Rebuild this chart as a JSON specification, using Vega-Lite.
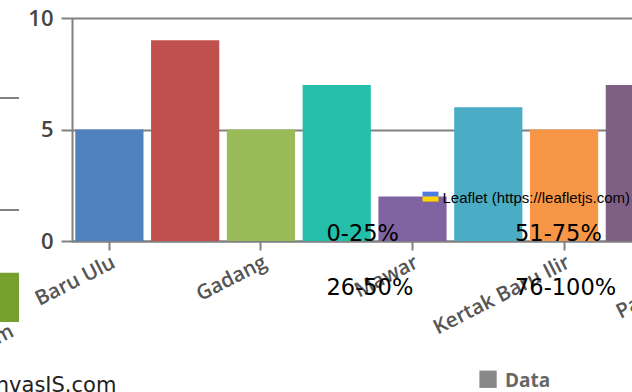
{"$schema":"https://vega.github.io/schema/vega-lite/v6.json","width":560,"height":223,"autosize":{"type":"none"},"padding":{"left":72,"top":18,"right":0,"bottom":151},"background":"#ffffff","config":{"view":{"stroke":null}},"layer":[{"data":{"values":[{"region":"Teluk Dalam","value":2.2}]},"layer":[{"mark":{"type":"tick","orient":"horizontal","size":68,"thickness":2,"color":"#808080","opacity":1},"data":{"values":[{"region":"Teluk Dalam","value":5},{"region":"Teluk Dalam","value":10}]},"encoding":{"x":{"field":"region","type":"nominal","axis":null,"scale":{"domain":["Teluk Dalam"],"range":[-121,-53],"paddingInner":0,"paddingOuter":0}},"y":{"field":"value","type":"quantitative","axis":null,"scale":{"domain":[0,10],"range":[304,80],"nice":false}}}},{"mark":{"type":"bar","color":"#76A12F","clip":false},"encoding":{"x":{"field":"region","type":"nominal","axis":null},"y":{"field":"value","type":"quantitative","axis":null}}},{"mark":{"type":"text","text":"Teluk Dalam","align":"right","baseline":"alphabetic","angle":-27,"dx":34,"fontSize":20.5,"font":"Open Sans","fontWeight":600,"color":"#555555"},"data":{"values":[{"region":"Teluk Dalam","value":-1.3}]},"encoding":{"x":{"field":"region","type":"nominal","axis":null},"y":{"field":"value","type":"quantitative","axis":null}}}]},{"data":{"values":[{"region":"Baru Ulu","value":5,"color":"#4F81BD"},{"region":"Antasan Besar","value":9,"color":"#C0504D"},{"region":"Gadang","value":5,"color":"#9BBB59"},{"region":"Melayu","value":7,"color":"#23BFAA"},{"region":"Mawar","value":2,"color":"#8064A2"},{"region":"Seberang Mesjid","value":6,"color":"#4BACC6"},{"region":"Kertak Baru Ilir","value":5,"color":"#F79646"},{"region":"Sungai Baru","value":7,"color":"#7F6084"}]},"layer":[{"mark":{"type":"bar"},"encoding":{"x":{"field":"region","type":"nominal","title":null,"sort":null,"scale":{"domain":["Baru Ulu","Antasan Besar","Gadang","Melayu","Mawar","Seberang Mesjid","Kertak Baru Ilir","Sungai Baru","Pasar Lama"],"range":[-0.5,681.5],"paddingInner":0.1,"paddingOuter":0.05},"axis":{"values":["Baru Ulu","Gadang","Mawar","Kertak Baru Ilir","Pasar Lama"],"labelAngle":-27,"labelAlign":"right","labelBaseline":"top","labelFont":"Open Sans","labelFontSize":20.5,"labelFontWeight":600,"labelColor":"#555555","labelPadding":2,"tickColor":"#808080","tickSize":9,"tickWidth":2,"domainColor":"#808080","domainWidth":2,"grid":false,"labelOverlap":false}},"y":{"field":"value","type":"quantitative","title":null,"scale":{"domain":[0,10],"nice":false},"axis":{"values":[0,5,10],"labelFont":"Open Sans","labelFontSize":22,"labelFontWeight":600,"labelColor":"#444444","labelPadding":8,"tickColor":"#808080","tickSize":11,"tickWidth":2,"domainColor":"#808080","domainWidth":2,"grid":true,"gridColor":"#808080","gridWidth":2,"gridOpacity":1}},"color":{"field":"color","type":"nominal","scale":null}}},{"mark":{"type":"text","align":"left","baseline":"alphabetic","dx":-86,"fontSize":22.5,"font":"DejaVu Sans","color":"#000000"},"data":{"values":[{"region":"Mawar","value":0,"label":"0-25%"},{"region":"Mawar","value":-2.42,"label":"26-50%"}]},"encoding":{"x":{"field":"region","type":"nominal"},"y":{"field":"value","type":"quantitative"},"text":{"field":"label"}}},{"mark":{"type":"text","align":"left","baseline":"alphabetic","dx":-49,"fontSize":22.5,"font":"DejaVu Sans","color":"#000000"},"data":{"values":[{"region":"Kertak Baru Ilir","value":0,"label":"51-75%"},{"region":"Kertak Baru Ilir","value":-2.42,"label":"76-100%"}]},"encoding":{"x":{"field":"region","type":"nominal"},"y":{"field":"value","type":"quantitative"},"text":{"field":"label"}}},{"mark":{"type":"tick","orient":"horizontal","size":16,"thickness":5,"color":"#4C7BE1","opacity":1,"xOffset":18,"yOffset":0},"data":{"values":[{"region":"Mawar","value":2.1}]},"encoding":{"x":{"field":"region","type":"nominal"},"y":{"field":"value","type":"quantitative"}}},{"mark":{"type":"tick","orient":"horizontal","size":16,"thickness":5,"color":"#FFD500","opacity":1,"xOffset":18,"yOffset":0},"data":{"values":[{"region":"Mawar","value":1.88}]},"encoding":{"x":{"field":"region","type":"nominal"},"y":{"field":"value","type":"quantitative"}}},{"mark":{"type":"text","align":"left","baseline":"middle","dx":30,"fontSize":15,"font":"Liberation Sans","color":"#000000"},"data":{"values":[{"region":"Mawar","value":1.93,"label":"Leaflet (https://leafletjs.com)"}]},"encoding":{"x":{"field":"region","type":"nominal"},"y":{"field":"value","type":"quantitative"},"text":{"field":"label"}}},{"mark":{"type":"point","shape":"square","filled":true,"size":300,"color":"#888888","opacity":1,"xOffset":-76},"data":{"values":[{"region":"Kertak Baru Ilir","value":-6.2}]},"encoding":{"x":{"field":"region","type":"nominal"},"y":{"field":"value","type":"quantitative"}}},{"mark":{"type":"text","align":"left","baseline":"middle","dx":-59,"fontSize":19,"fontWeight":700,"font":"Open Sans","color":"#666666"},"data":{"values":[{"region":"Kertak Baru Ilir","value":-6.3,"label":"Data"}]},"encoding":{"x":{"field":"region","type":"nominal"},"y":{"field":"value","type":"quantitative"},"text":{"field":"label"}}},{"mark":{"type":"text","align":"right","baseline":"alphabetic","dx":7,"fontSize":21,"font":"DejaVu Sans","color":"#222222"},"data":{"values":[{"region":"Baru Ulu","value":-6.75,"label":"KanvasIS.com"}]},"encoding":{"x":{"field":"region","type":"nominal"},"y":{"field":"value","type":"quantitative"},"text":{"field":"label"}}}]}],"resolve":{"scale":{"x":"independent","y":"independent"}}}
